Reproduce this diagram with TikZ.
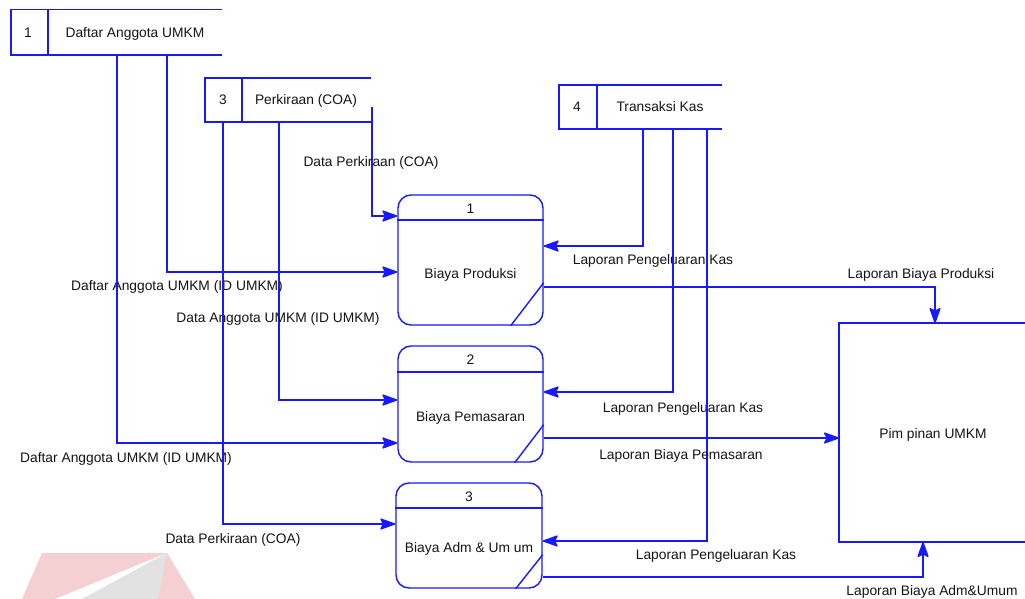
\documentclass[tikz,border=0pt]{standalone}
\usepackage{fontspec}
\setmainfont{Liberation Sans}
\usetikzlibrary{arrows.meta}
\definecolor{dfdblue}{RGB}{25,25,255}
\definecolor{wmpink}{RGB}{244,208,210}
\definecolor{wmgray}{RGB}{226,226,226}
\begin{document}
\begin{tikzpicture}[x=1pt,y=-1pt,
  edge/.style={draw=dfdblue, line width=1.4pt},
  flow/.style={draw=dfdblue, line width=1.4pt, -{Stealth[length=17pt,width=12pt,inset=3pt,round]}},
  lbl/.style={font=\fontsize{13.8}{16}\selectfont, text=black!92, inner sep=0pt, anchor=base},
  proc/.style={draw=dfdblue, line width=1.4pt, rounded corners=13pt, inner sep=0pt},
]
\useasboundingbox (0,0) rectangle (1025,599);

% faint watermark
\fill[wmpink] (22,599) -- (42,553) -- (167,553) -- (195,599) -- cycle;
\fill[white] (167,553) -- (55,599) -- (82,599) -- cycle;
\fill[wmgray] (167,553) -- (82,599) -- (158,599) -- cycle;

% data stores
\draw[edge] (222,9.5) -- (11,9.5) -- (11,55) -- (222,55);
\draw[edge] (48,9.5) -- (48,55);
\node[lbl] (s1n) at (28,38) {1};
\node[lbl] (s1) at (135,38) {Daftar Anggota UMKM};

\draw[edge] (371,78) -- (205,78) -- (205,122) -- (371,122);
\draw[edge] (242,78) -- (242,122);
\node[lbl] (s3n) at (223,105) {3};
\node[lbl] (s3) at (306,105) {Perkiraan (COA)};

\draw[edge] (722,85) -- (559,85) -- (559,129) -- (722,129);
\draw[edge] (597,85) -- (597,129);
\node[lbl] (s4n) at (577,112) {4};
\node[lbl] (s4) at (660,112) {Transaksi Kas};

\coordinate (s1a) at (117,55);
\coordinate (s1b) at (167,55);
\coordinate (s3a) at (223,122);
\coordinate (s3b) at (279,122);
\coordinate (s3c) at (372,107);
\coordinate (s4a) at (643,129);
\coordinate (s4b) at (673,129);
\coordinate (s4c) at (707,129);

% processes
\node[proc, minimum width=145pt, minimum height=130pt] (p1) at (470.5,260) {};
\draw[edge] (p1.west |- 0,220) -- (p1.east |- 0,220);
\draw[edge] ([xshift=-33pt]p1.south east) -- ([yshift=43pt]p1.south east);
\node[lbl] (p1n) at (470.5,213) {1};
\node[lbl] (p1t) at (470.5,278) {Biaya Produksi};

\node[proc, minimum width=145pt, minimum height=116pt] (p2) at (470.5,404) {};
\draw[edge] (p2.west |- 0,372) -- (p2.east |- 0,372);
\draw[edge] ([xshift=-29pt]p2.south east) -- ([yshift=38pt]p2.south east);
\node[lbl] (p2n) at (470.5,364) {2};
\node[lbl] (p2t) at (470.5,421) {Biaya Pemasaran};

\node[proc, minimum width=146pt, minimum height=105pt] (p3) at (469,535.5) {};
\draw[edge] (p3.west |- 0,508) -- (p3.east |- 0,508);
\draw[edge] ([xshift=-27pt]p3.south east) -- ([yshift=34pt]p3.south east);
\node[lbl] (p3n) at (469,501) {3};
\node[lbl] (p3t) at (469,552) {Biaya Adm \& Um um};

% external entity (cut at the right edge)
\draw[edge] (1025,323) -- (839,323) -- (839,542) -- (1025,542);
\node[lbl] (pim) at (933,438) {Pim pinan UMKM};
\coordinate (pimw) at (839,438);
\coordinate (pimn) at (935,323);
\coordinate (pims) at (923,542);

% flows into processes
\draw[flow] (s3c) |- (p1.west |- 0,216);
\node[lbl] at (371,166) {Data Perkiraan (COA)};
\draw[flow] (s1b) |- (p1.west |- 0,272);
\node[lbl] at (177,290) {Daftar Anggota UMKM (ID UMKM)};
\draw[flow] (s3b) |- (p2.west |- 0,400);
\node[lbl] at (278,322) {Data Anggota UMKM (ID UMKM)};
\draw[flow] (s1a) |- (p2.west |- 0,443);
\node[lbl] at (126,462) {Daftar Anggota UMKM (ID UMKM)};
\draw[flow] (s3a) |- (p3.west |- 0,524);
\node[lbl] at (233,543) {Data Perkiraan (COA)};

\draw[flow] (s4a) |- (p1.east |- 0,246);
\node[lbl] at (653,264) {Laporan Pengeluaran Kas};
\draw[flow] (s4b) |- (p2.east |- 0,392);
\node[lbl] at (683,412) {Laporan Pengeluaran Kas};
\draw[flow] (s4c) |- (p3.east |- 0,541);
\node[lbl] at (716,559) {Laporan Pengeluaran Kas};

% flows out to Pimpinan UMKM
\draw[flow] (p1.east |- 0,287) -| (pimn);
\node[lbl] at (921,278) {Laporan Biaya Produksi};
\draw[flow] (p2.east |- 0,438) -- (pimw);
\node[lbl] at (681,459) {Laporan Biaya Pemasaran};
\draw[flow] (p3.east |- 0,577) -| (pims);
\node[lbl] at (932,595) {Laporan Biaya Adm\&Umum};
\end{tikzpicture}
\end{document}
